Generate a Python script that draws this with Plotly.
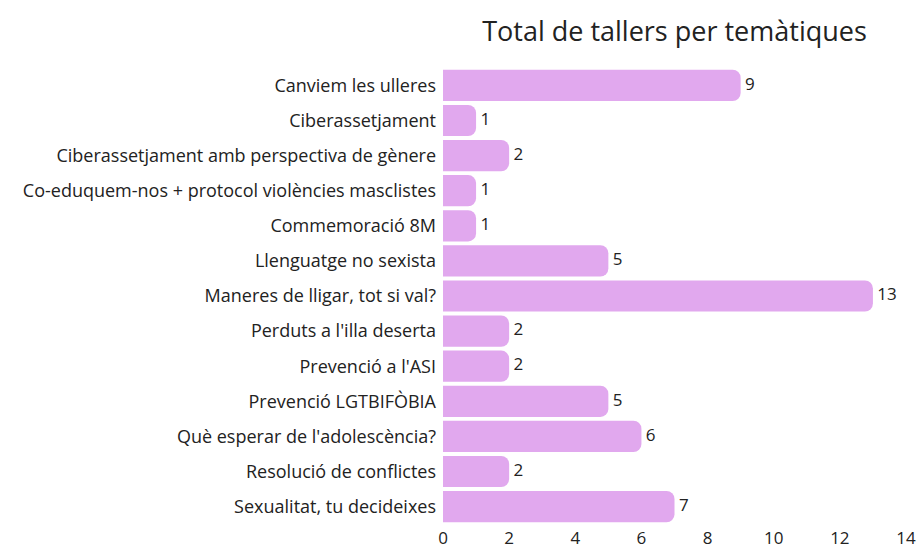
import plotly.graph_objects as go

categories = [
    "Canviem les ulleres",
    "Ciberassetjament",
    "Ciberassetjament amb perspectiva de gènere",
    "Co-eduquem-nos + protocol violències masclistes",
    "Commemoració 8M",
    "Llenguatge no sexista",
    "Maneres de lligar, tot si val?",
    "Perduts a l'illa deserta",
    "Prevenció a l'ASI",
    "Prevenció LGTBIFÒBIA",
    "Què esperar de l'adolescència?",
    "Resolució de conflictes",
    "Sexualitat, tu decideixes",
]
values = [9, 1, 2, 1, 1, 5, 13, 2, 2, 5, 6, 2, 7]
x_ticks = [0, 2, 4, 6, 8, 10, 12, 14]

FONT = "Open Sans"
TXT = "#222222"
fig = go.Figure()
fig.add_trace(
    go.Bar(
        y=categories,
        x=values,
        orientation="h",
        marker=dict(color="#E1A8EE", line=dict(width=0)),
        hoverinfo="skip",
    )
)
fig.add_trace(
    go.Scatter(
        y=categories,
        x=values,
        mode="text",
        text=[f" {v}" for v in values],
        textposition="middle right",
        textfont=dict(family=FONT, size=17, color=TXT),
        cliponaxis=False,
        hoverinfo="skip",
    )
)

W, H = 920, 551
L, R, T, B = 443, 14, 62, 21
fig.update_layout(
    width=W,
    height=H,
    margin=dict(l=L, r=R, t=T, b=B, autoexpand=False),
    paper_bgcolor="white",
    plot_bgcolor="white",
    bargap=0.11,
    barcornerradius=8,
    showlegend=False,
    font=dict(family=FONT, color=TXT),
    title=dict(
        text="Total de tallers per temàtiques",
        x=0.5 * (L + W - R) / W,
        xanchor="center",
        y=1 - 32 / H,
        yanchor="middle",
        font=dict(family=FONT, size=27, color=TXT),
    ),
    xaxis=dict(
        range=[0, 14],
        tickvals=x_ticks,
        showgrid=False,
        zeroline=False,
        showline=False,
        ticks="",
        automargin=False,
        ticklabelstandoff=-4,
        tickfont=dict(family=FONT, size=17, color=TXT),
        fixedrange=True,
    ),
    yaxis=dict(
        autorange="reversed",
        showgrid=False,
        zeroline=False,
        showline=False,
        ticks="",
        automargin=False,
        ticklabelstandoff=6,
        tickfont=dict(family=FONT, size=18, color=TXT),
        fixedrange=True,
    ),
)

fig.write_html(
    "out.html",
    config={"displayModeBar": False},
    post_script="document.body.style.margin='0';document.body.style.overflow='hidden';",
)
